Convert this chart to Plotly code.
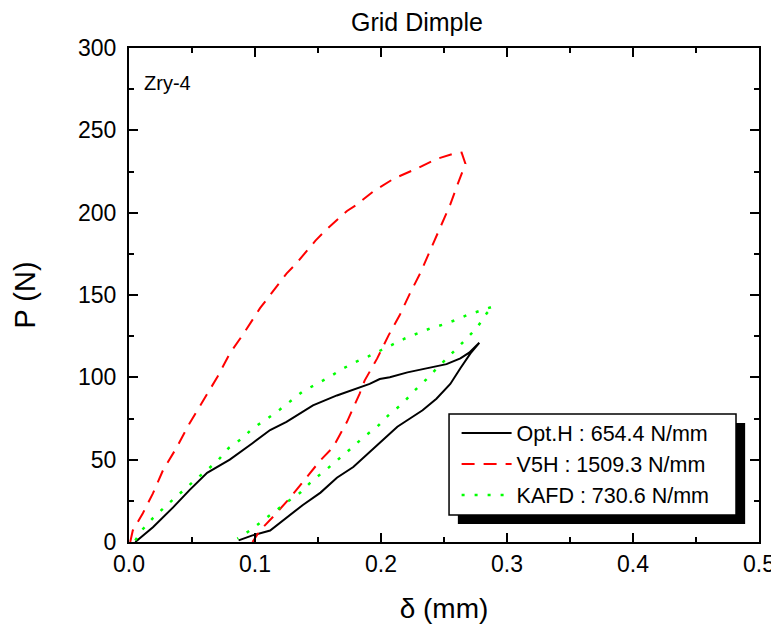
import plotly.graph_objects as go

# ---- data ----
opt_x = [0.005, 0.019, 0.035, 0.048, 0.062, 0.080, 0.098, 0.112, 0.125, 0.146, 0.165, 0.183,
         0.191, 0.199, 0.207, 0.221, 0.237, 0.252, 0.263, 0.270, 0.278,
         0.271, 0.263, 0.255, 0.244, 0.233, 0.223, 0.213, 0.203, 0.191, 0.178, 0.165,
         0.152, 0.138, 0.125, 0.112, 0.098, 0.087]
opt_y = [0, 9, 21, 31.5, 42, 50, 60, 68, 73, 83, 89, 94,
         96, 99, 100, 103, 105.5, 108, 111.5, 115, 121,
         114.5, 105.5, 96, 87, 80, 75, 70, 63, 54.5, 45.5, 39,
         30, 22.5, 15, 7, 4, 1]

v5h_x = [0.001, 0.003, 0.011, 0.019, 0.027, 0.038, 0.048, 0.059, 0.070, 0.080, 0.091, 0.104,
         0.112, 0.117, 0.125, 0.132, 0.140, 0.148, 0.157, 0.163, 0.173, 0.181, 0.194, 0.210,
         0.229, 0.244, 0.257, 0.264,
         0.267, 0.261, 0.255, 0.247, 0.239, 0.231, 0.223, 0.215, 0.206, 0.197, 0.187,
         0.183, 0.173, 0.162, 0.152, 0.141, 0.128, 0.114, 0.104, 0.098]
v5h_y = [0, 7, 17.5, 29.5, 43.6, 57.6, 72, 86, 100, 114.5, 126.6, 142,
         150, 154.5, 163, 168.5, 176, 183, 190, 194, 201, 205, 213, 220.6,
         227, 232.6, 235.7, 236.5,
         229.7, 217.6, 205, 191, 177, 163, 151, 138, 125.5, 111.5, 98,
         90, 73, 57.6, 49.7, 39.4, 27, 15, 7, 0]

kafd_x = [0.005, 0.010, 0.019, 0.030, 0.050, 0.059, 0.070, 0.079, 0.090, 0.098, 0.110, 0.120,
          0.129, 0.138, 0.149, 0.160, 0.169, 0.179, 0.190, 0.199, 0.209, 0.219, 0.229, 0.239,
          0.249, 0.260, 0.269, 0.279, 0.289,
          0.284, 0.276, 0.266, 0.256, 0.245, 0.236, 0.226, 0.217, 0.206, 0.197, 0.186,
          0.175, 0.166, 0.156, 0.146, 0.136, 0.125, 0.116, 0.106, 0.096, 0.086]
kafd_y = [1, 7, 14.5, 22.4, 36, 42, 49, 57, 63, 69, 75, 80.6,
          86, 91.5, 96, 100.6, 105, 109, 112.7, 116, 120, 123.6, 126.7, 129.7,
          132, 135, 138, 140.6, 143,
          139, 130, 122, 114.5, 106, 98.8, 91.5, 84, 77, 70, 63.6,
          56, 50, 43.6, 37.6, 30, 24, 18.8, 13.3, 7, 2]

series_names = ["Opt.H : 654.4 N/mm", "V5H : 1509.3 N/mm", "KAFD : 730.6 N/mm"]
x_ticks = [0.0, 0.1, 0.2, 0.3, 0.4, 0.5]
y_ticks = [0, 50, 100, 150, 200, 250, 300]

FONT = "Liberation Sans, Arial, sans-serif"

# the page body has an 8px margin, so the figure is sized to fill the rest of the window
W, H = 771, 631

fig = go.Figure()
fig.add_trace(go.Scatter(x=opt_x, y=opt_y, mode="lines", name=series_names[0],
                         legendgroup="a", line=dict(color="black", width=2)))
fig.add_trace(go.Scatter(x=v5h_x, y=v5h_y, mode="lines", name=series_names[1],
                         legendgroup="b", line=dict(color="#ff0000", width=2, dash="13px,9px")))
fig.add_trace(go.Scatter(x=kafd_x, y=kafd_y, mode="lines", name=series_names[2],
                         legendgroup="c", line=dict(color="#00ff00", width=2.5, dash="3px,10px")))

axis_common = dict(showgrid=False, zeroline=False, showline=True, linecolor="black",
                   linewidth=2, mirror="ticks", ticks="inside", ticklen=9, tickwidth=1.5,
                   tickcolor="black", automargin=False,
                   tickfont=dict(family=FONT, size=23, color="black"))

fig.update_xaxes(range=[0, 0.5], tickvals=x_ticks, ticktext=[f"{v:.1f}" for v in x_ticks],
                 minor=dict(dtick=0.05, ticks="inside", ticklen=5, tickwidth=1.5, tickcolor="black"),
                 title=dict(text="δ (mm)", font=dict(family=FONT, size=28, color="black"), standoff=23),
                 **axis_common)
fig.update_yaxes(range=[0, 300], tickvals=y_ticks, ticktext=[str(v) for v in y_ticks],
                 minor=dict(dtick=25, ticks="inside", ticklen=5, tickwidth=1.5, tickcolor="black"),
                 title=dict(text="P (N)", font=dict(family=FONT, size=29, color="black"), standoff=34),
                 ticklabelstandoff=6,
                 **axis_common)

# legend box with drop shadow
fig.add_shape(type="rect", xref="paper", yref="paper", x0=0.522, x1=0.978, y0=0.0364, y1=0.2409,
              fillcolor="black", line=dict(width=0), layer="below")
fig.add_shape(type="rect", xref="paper", yref="paper", x0=0.508, x1=0.9635, y0=0.0547, y1=0.2591,
              fillcolor="white", line=dict(color="black", width=1.5), layer="below")

fig.add_annotation(text="Zry-4", xref="paper", yref="paper", x=0.02, y=0.93,
                   xanchor="left", yanchor="middle", showarrow=False,
                   font=dict(family=FONT, size=20, color="black"))

fig.update_layout(
    width=W, height=H,
    margin=dict(l=121, r=20, t=40, b=97),
    plot_bgcolor="white", paper_bgcolor="white",
    title=dict(text="Grid Dimple", x=409 / W, xanchor="center", xref="container",
               y=1 - 14 / H, yanchor="middle", yref="container",
               font=dict(family=FONT, size=25, color="black")),
    legend=dict(x=0.52, y=0.262, xanchor="left", yanchor="top", bgcolor="rgba(0,0,0,0)",
                borderwidth=0, font=dict(family=FONT, size=21.5, color="black"),
                tracegroupgap=0, traceorder="grouped", itemwidth=50),
    font=dict(family=FONT),
)

fig.write_html("out.html")
